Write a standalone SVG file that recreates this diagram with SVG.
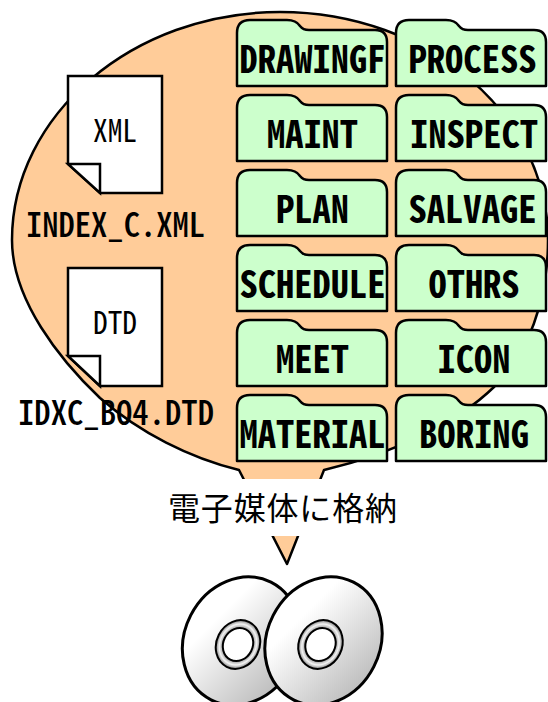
<svg xmlns="http://www.w3.org/2000/svg" width="548" height="702" viewBox="0 0 548 702">
<style>
.jp{font-family:"Noto Sans CJK JP","Liberation Sans",sans-serif;font-feature-settings:"hwid";fill:#000}
.lbl{font-size:38px;font-weight:700;text-anchor:middle}
.fn{font-size:34px;font-weight:500}
.dc{font-size:31px;text-anchor:middle}
.folder{fill:#ccffcc;stroke:#000;stroke-width:2.5;stroke-linejoin:round}
.page{fill:#fff;stroke:#000;stroke-width:2.5}
.disc{stroke:#000;stroke-width:3;fill:url(#dg)}
.ring{stroke:#000;stroke-width:2;fill:url(#rg)}
.hole{stroke:#000;stroke-width:2;fill:#fff}
</style>
<defs>
<path id="f" d="M0 66V13Q0 0 13 0H50Q59 0 63 6Q66 10 72 10H138Q150 10 150 22V66Z" class="folder"/>
<linearGradient id="dg" gradientUnits="userSpaceOnUse" x1="17.5" y1="-53.8" x2="-19.7" y2="60.5"><stop offset="0.2" stop-color="#fff"/><stop offset="1" stop-color="#bbb"/></linearGradient>
<radialGradient id="rg"><stop offset="0.68" stop-color="#999"/><stop offset="0.84" stop-color="#f4f4f4"/><stop offset="1" stop-color="#808080"/></radialGradient>
</defs>
<g id="callout"><path d="M239 470C190 458 140 433 100 398C60 360 12 300 12 240C12 115 133 12 280 12C429 12 548 115 548 240C548 300 528 355 494 387C460 420 400 452 324 470L287 564Z" fill="#ffcc99" stroke="#000" stroke-width="2.5" stroke-linejoin="round"/></g>
<g id="media-label"><rect x="150" y="479" width="270" height="57" fill="#fff"/><text class="jp" x="168" y="520" font-size="32" textLength="229">電子媒体に格納</text></g>
<g id="xml-file"><path class="page" d="M68 76H162V193H100L68 164Z"/><path class="page" d="M68 164H100V193Z"/><text class="jp dc" x="115" y="142" textLength="44" lengthAdjust="spacingAndGlyphs">XML</text></g>
<text id="xml-name" class="jp fn" x="26" y="237" textLength="179" lengthAdjust="spacingAndGlyphs">INDEX_C.XML</text>
<g id="dtd-file"><path class="page" d="M68 268H162V386H100L68 356Z"/><path class="page" d="M68 356H100V386Z"/><text class="jp dc" x="115" y="334" textLength="44" lengthAdjust="spacingAndGlyphs">DTD</text></g>
<text id="dtd-name" class="jp fn" x="18" y="425" textLength="196" lengthAdjust="spacingAndGlyphs">IDXC_BO4.DTD</text>
<g id="folder-drawingf"><use href="#f" x="237" y="20"/><text class="jp lbl" x="312.5" y="73" textLength="146" lengthAdjust="spacingAndGlyphs">DRAWINGF</text></g>
<g id="folder-process"><use href="#f" x="396" y="20"/><text class="jp lbl" x="472.5" y="73" textLength="128" lengthAdjust="spacingAndGlyphs">PROCESS</text></g>
<g id="folder-maint"><use href="#f" x="237" y="95"/><text class="jp lbl" x="312.5" y="148" textLength="91" lengthAdjust="spacingAndGlyphs">MAINT</text></g>
<g id="folder-inspect"><use href="#f" x="396" y="95"/><text class="jp lbl" x="474" y="148" textLength="128" lengthAdjust="spacingAndGlyphs">INSPECT</text></g>
<g id="folder-plan"><use href="#f" x="237" y="170"/><text class="jp lbl" x="312.5" y="223" textLength="73" lengthAdjust="spacingAndGlyphs">PLAN</text></g>
<g id="folder-salvage"><use href="#f" x="396" y="170"/><text class="jp lbl" x="472.5" y="223" textLength="128" lengthAdjust="spacingAndGlyphs">SALVAGE</text></g>
<g id="folder-schedule"><use href="#f" x="237" y="245"/><text class="jp lbl" x="312.5" y="298" textLength="146" lengthAdjust="spacingAndGlyphs">SCHEDULE</text></g>
<g id="folder-othrs"><use href="#f" x="396" y="245"/><text class="jp lbl" x="474" y="298" textLength="91" lengthAdjust="spacingAndGlyphs">OTHRS</text></g>
<g id="folder-meet"><use href="#f" x="237" y="320"/><text class="jp lbl" x="312.5" y="373" textLength="73" lengthAdjust="spacingAndGlyphs">MEET</text></g>
<g id="folder-icon"><use href="#f" x="396" y="320"/><text class="jp lbl" x="474" y="373" textLength="73" lengthAdjust="spacingAndGlyphs">ICON</text></g>
<g id="folder-material"><use href="#f" x="237" y="395"/><text class="jp lbl" x="312.5" y="448" textLength="146" lengthAdjust="spacingAndGlyphs">MATERIAL</text></g>
<g id="folder-boring"><use href="#f" x="396" y="395"/><text class="jp lbl" x="474" y="448" textLength="110" lengthAdjust="spacingAndGlyphs">BORING</text></g>
<g id="disc-left" transform="translate(241 641)"><ellipse class="disc" rx="66" ry="56.5" transform="rotate(-63)"/><g transform="translate(-3 3.5) rotate(-63)"><ellipse class="ring" rx="25" ry="21.5"/><ellipse class="hole" rx="17" ry="14.7"/></g></g>
<g id="disc-right" transform="translate(323.5 641)"><ellipse class="disc" rx="66" ry="56.5" transform="rotate(-63)"/><g transform="translate(-3 3.5) rotate(-63)"><ellipse class="ring" rx="25" ry="21.5"/><ellipse class="hole" rx="17" ry="14.7"/></g></g>
</svg>
